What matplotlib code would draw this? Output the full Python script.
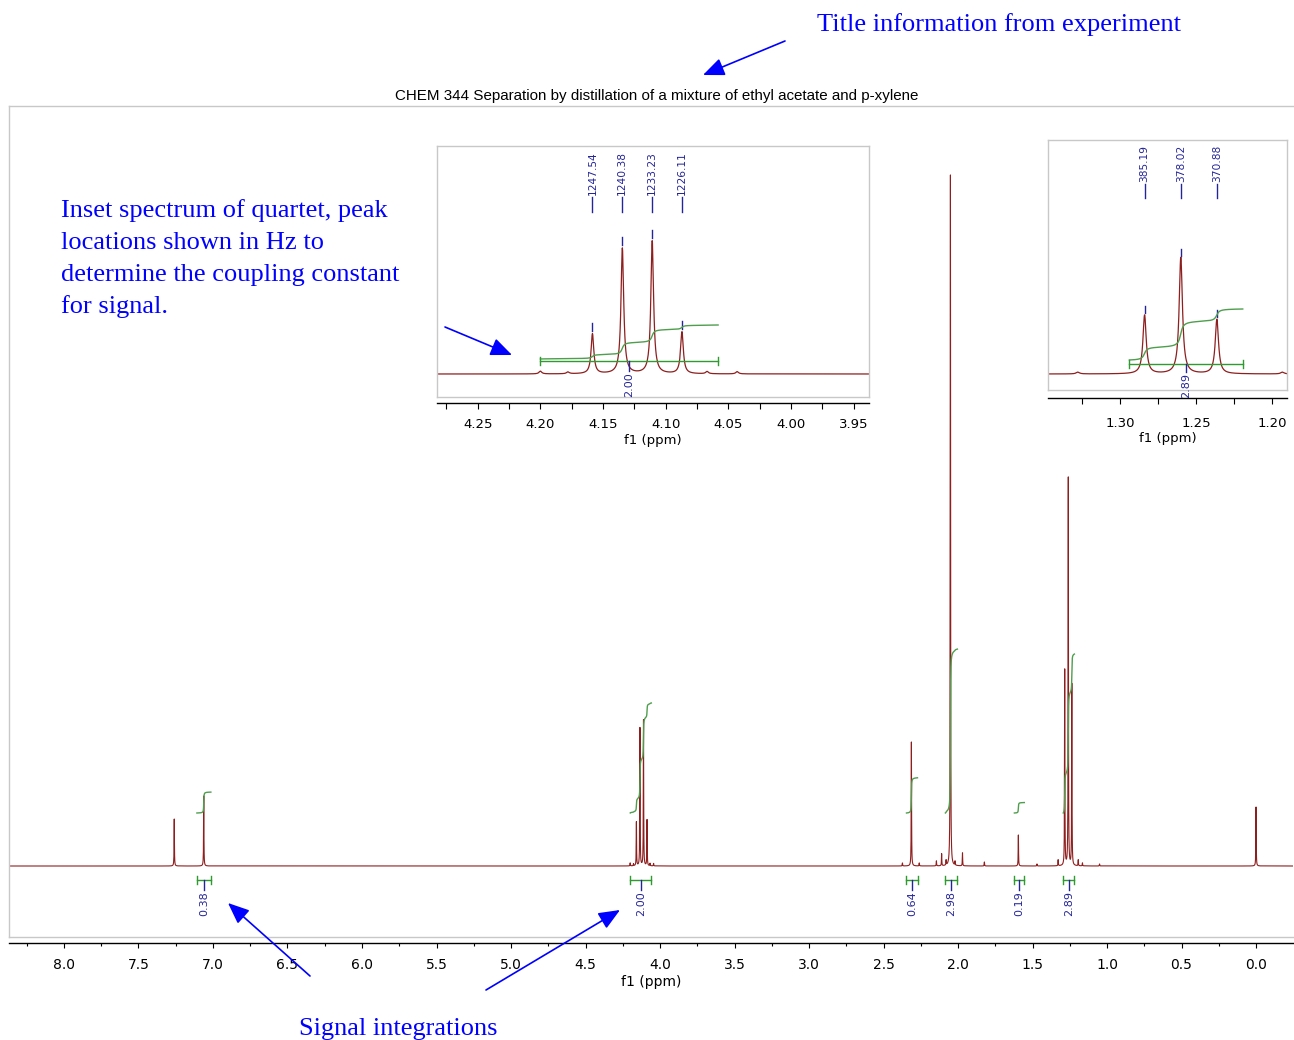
import numpy as np
import matplotlib
matplotlib.use("Agg")
import matplotlib.pyplot as plt
import matplotlib.transforms as mtransforms
from matplotlib.ticker import MultipleLocator, FormatStrFormatter

# ---------------- data ----------------
title = "CHEM 344 Separation by distillation of a mixture of ethyl acetate and p-xylene"
spectrometer_mhz = 300.0
quartet_hz = [1247.54, 1240.38, 1233.23, 1226.11]
quartet_heights = [44, 138, 146, 46]
triplet_hz = [385.19, 378.02, 370.88]
triplet_heights = [196, 389, 182]
singlet_shifts = [7.260, 7.062, 2.313, 2.051, 1.595, 0.000]
singlet_heights = [47, 70, 124, 691, 31, 59]
minor_shifts = [4.200, 4.178, 4.067, 4.043, 2.373, 2.260, 2.145, 2.110, 2.080,
                2.020, 1.970, 1.823, 1.470, 1.328, 1.193, 1.165, 1.050]
minor_heights = [3, 2, 2.5, 2.5, 3, 3, 5, 12, 5, 4, 13, 4, 2, 6, 6, 3, 2]
line_hwhm = 0.0013

integral_values = [0.38, 2.00, 0.64, 2.98, 0.19, 2.89]
integral_from = [7.108, 4.200, 2.346, 2.085, 1.622, 1.294]
integral_to = [7.014, 4.058, 2.272, 2.004, 1.555, 1.219]

note_title = "Title information from experiment"
note_inset = ["Inset spectrum of quartet, peak", "locations shown in Hz to",
              "determine the coupling constant", "for signal."]
note_integ = "Signal integrations"

# ---------------- styling ----------------
W, H = 1294, 1040
RED = "#8e1f1f"
GREEN = "#2f9a2f"
GREEN_CURVE = "#4e9e4e"
NAVY = "#25259a"
GRAY = "#c8c8c8"
BLUE = "#0000ff"

fig = plt.figure(figsize=(W / 100, H / 100), dpi=100)


def box(x0, y0, x1, y1):
    return [x0 / W, 1 - y1 / H, (x1 - x0) / W, (y1 - y0) / H]


# spectrum built from the peak list
shifts = ([q / spectrometer_mhz for q in quartet_hz] + [t / spectrometer_mhz for t in triplet_hz]
          + singlet_shifts + minor_shifts)
heights = quartet_heights + triplet_heights + singlet_heights + minor_heights
ppm = np.arange(-0.40, 8.50, 0.0002)
inten = np.zeros_like(ppm)
for s, h in zip(shifts, heights):
    inten += h / (1.0 + ((ppm - s) / line_hwhm) ** 2)


def integral_curve(i):
    m = (ppm <= integral_from[i]) & (ppm >= integral_to[i])
    xs = ppm[m][::-1]
    cum = np.cumsum(inten[m][::-1])
    return xs, cum / cum[-1]


def style_frame(ax, offset_pt, right=True):
    for side in ("left", "top", "right"):
        ax.spines[side].set_color(GRAY)
        ax.spines[side].set_linewidth(1.0)
    if not right:
        ax.spines["right"].set_visible(False)
    ax.spines["bottom"].set_color("black")
    ax.spines["bottom"].set_linewidth(1.0)
    ax.spines["bottom"].set_position(("outward", offset_pt))
    ax.plot([0, 1], [0, 0], transform=ax.transAxes, color=GRAY, lw=1.0, clip_on=False)
    ax.set_yticks([])
    ax.patch.set_alpha(0)


# ---------------- main spectrum ----------------
ax = fig.add_axes(box(9, 106, 1293, 937))
ax.plot(ppm, inten, color=RED, lw=0.8)
ax.set_xlim(8.369, -0.248)
ax.set_ylim(-71, 760)
style_frame(ax, 4.3, right=False)
ax.xaxis.set_major_locator(MultipleLocator(0.5))
ax.xaxis.set_minor_locator(MultipleLocator(0.25))
ax.xaxis.set_major_formatter(FormatStrFormatter("%.1f"))
ax.tick_params(axis="x", which="major", length=3.6, width=0.8, pad=7.2, labelsize=10)
ax.tick_params(axis="x", which="minor", length=2.2, width=0.8)
ax.set_xlabel("f1 (ppm)", fontsize=10, labelpad=2)

for i, v in enumerate(integral_values):
    xs, c = integral_curve(i)
    ax.plot(xs, 53 + 55 * v * c, color=GREEN_CURVE, lw=1.0)
    a, b = integral_from[i], integral_to[i]
    ax.plot([a, b], [-14, -14], color=GREEN, lw=1.0)
    ax.plot([a, a], [-18, -10], color=GREEN, lw=1.0)
    ax.plot([b, b], [-18, -10], color=GREEN, lw=1.0)
    cx = 0.5 * (a + b)
    ax.plot([cx, cx], [-14, -24], color=NAVY, lw=1.0)
    ax.text(cx, -25, f"{v:.2f}", rotation=90, ha="center", va="top",
            fontsize=8, color=NAVY)

# ---------------- inset 1: quartet ----------------
s1 = 0.91
ax1 = fig.add_axes(box(437, 146, 869, 397))
ax1.plot(ppm, inten, color=RED, lw=0.9)
ax1.set_xlim(4.2825, 3.9378)
ax1.set_ylim(-23 / s1, 228 / s1)
style_frame(ax1, 4.3)
ax1.xaxis.set_major_locator(MultipleLocator(0.05))
ax1.xaxis.set_minor_locator(MultipleLocator(0.025))
ax1.xaxis.set_major_formatter(FormatStrFormatter("%.2f"))
ax1.tick_params(axis="x", which="major", length=4.3, width=0.8, pad=6.5, labelsize=9.5)
ax1.tick_params(axis="x", which="minor", length=4.3, width=0.8)
ax1.set_xlabel("f1 (ppm)", fontsize=9.5, labelpad=2.5)
tr1 = mtransforms.blended_transform_factory(ax1.transData, ax1.transAxes)
for hz in quartet_hz:
    s = hz / spectrometer_mhz
    ax1.plot([s, s], [0.737, 0.797], transform=tr1, color=NAVY, lw=1.0)
    ax1.text(s, 0.803, f"{hz:.2f}", rotation=90, ha="center", va="bottom",
             transform=tr1, fontsize=7.7, color=NAVY)
    top = np.interp(s, ppm, inten)
    ax1.plot([s, s], [top + 3 / s1, top + 11 / s1], color=NAVY, lw=1.0)
xs, c = integral_curve(1)
ax1.plot(xs, (15 + 34 * c) / s1, color=GREEN_CURVE, lw=1.0)
a, b = integral_from[1], integral_to[1]
ax1.plot([a, b], [13 / s1] * 2, color=GREEN, lw=1.0)
ax1.plot([a, a], [9 / s1, 17 / s1], color=GREEN, lw=1.0)
ax1.plot([b, b], [9 / s1, 17 / s1], color=GREEN, lw=1.0)
cx = 0.5 * (a + b)
ax1.plot([cx, cx], [13 / s1, 3 / s1], color=NAVY, lw=1.0)
ax1.text(cx, 2 / s1, f"{integral_values[1]:.2f}", rotation=90, ha="center", va="top",
         fontsize=8, color=NAVY)

# ---------------- inset 2: triplet ----------------
s2 = 0.30
ax2 = fig.add_axes(box(1048, 140, 1287, 390))
ax2.plot(ppm, inten, color=RED, lw=0.9)
ax2.set_xlim(1.3477, 1.190)
ax2.set_ylim(-16 / s2, 234 / s2)
style_frame(ax2, 5.8)
ax2.xaxis.set_major_locator(MultipleLocator(0.05))
ax2.xaxis.set_minor_locator(MultipleLocator(0.025))
ax2.xaxis.set_major_formatter(FormatStrFormatter("%.2f"))
ax2.tick_params(axis="x", which="major", length=4.3, width=0.8, pad=9.5, labelsize=9.5)
ax2.tick_params(axis="x", which="minor", length=4.3, width=0.8)
ax2.set_xlabel("f1 (ppm)", fontsize=9.5, labelpad=1.5)
tr2 = mtransforms.blended_transform_factory(ax2.transData, ax2.transAxes)
for hz in triplet_hz:
    s = hz / spectrometer_mhz
    ax2.plot([s, s], [0.768, 0.824], transform=tr2, color=NAVY, lw=1.0)
    ax2.text(s, 0.830, f"{hz:.2f}", rotation=90, ha="center", va="bottom",
             transform=tr2, fontsize=7.7, color=NAVY)
    top = np.interp(s, ppm, inten)
    ax2.plot([s, s], [top + 2 / s2, top + 9 / s2], color=NAVY, lw=1.0)
xs, c = integral_curve(5)
ax2.plot(xs, (14 + 51 * c) / s2, color=GREEN_CURVE, lw=1.0)
a, b = integral_from[5], integral_to[5]
ax2.plot([a, b], [10 / s2] * 2, color=GREEN, lw=1.0)
ax2.plot([a, a], [6 / s2, 14 / s2], color=GREEN, lw=1.0)
ax2.plot([b, b], [6 / s2, 14 / s2], color=GREEN, lw=1.0)
cx = 0.5 * (a + b)
ax2.plot([cx, cx], [10 / s2, 2 / s2], color=NAVY, lw=1.0)
lab2 = ax2.text(cx, 1 / s2, f"{integral_values[5]:.2f}", rotation=90, ha="center",
                va="top", fontsize=8, color=NAVY)
clip_bb = mtransforms.TransformedBbox(
    mtransforms.Bbox([[1048 / W, 1 - 398 / H], [1287 / W, 1 - 140 / H]]), fig.transFigure)
lab2.set_clip_box(clip_bb)
lab2.set_clip_on(True)

# ---------------- title ----------------
fig.text(657 / W, 1 - 96 / H, title, ha="center", va="center", fontsize=10.9,
         family="Liberation Sans")

# ---------------- annotations overlay ----------------
ov = fig.add_axes([0, 0, 1, 1])
ov.set_xlim(0, W)
ov.set_ylim(H, 0)
ov.axis("off")
ov.patch.set_alpha(0)
serif = dict(family="Liberation Serif", fontsize=19, color=BLUE, va="baseline", ha="left")
ov.text(817, 31, note_title, **serif)
for k, line in enumerate(note_inset):
    ov.text(61, 217 + 32 * k, line, **serif)
ov.text(299, 1035, note_integ, **serif)
arrow = dict(arrowstyle="-|>,head_length=1.0,head_width=0.42", color=BLUE, lw=1.2,
             mutation_scale=13, shrinkA=0, shrinkB=0)
for tail, head in [((785, 41), (703, 75)), ((445, 327), (512, 355)),
                   ((310, 976), (228, 903)), ((486, 990), (620, 910))]:
    ov.annotate("", xy=head, xytext=tail, arrowprops=arrow)

fig.savefig("out.png", dpi=100)
